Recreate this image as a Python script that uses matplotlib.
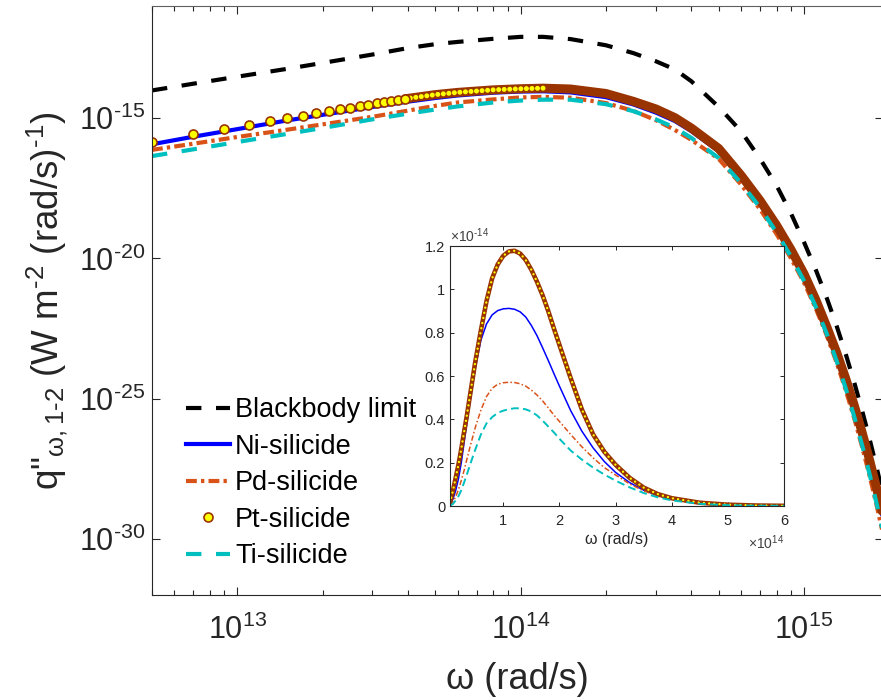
import numpy as np
import matplotlib
matplotlib.use('Agg')
import matplotlib.pyplot as plt
from matplotlib.lines import Line2D
from matplotlib.ticker import FixedLocator, NullLocator, FuncFormatter

plt.rcParams['font.family'] = ['Liberation Sans', 'DejaVu Sans']
plt.rcParams['mathtext.fontset'] = 'custom'
plt.rcParams['mathtext.rm'] = 'Liberation Sans'
plt.rcParams['mathtext.it'] = 'Liberation Sans:italic'
plt.rcParams['mathtext.default'] = 'regular'

# ---- main plot data: omega (rad/s) and log10 of q ----
w_main = [5e12, 7e12, 1e13, 1.5e13, 2e13, 3e13, 4e13, 5e13, 6e13, 8e13,
          1e14, 1.2e14, 1.5e14, 2e14, 2.5e14, 3e14, 3.5e14, 4e14, 5e14, 6e14,
          7e14, 8e14, 9e14, 1e15, 1.1e15, 1.2e15, 1.3e15, 1.4e15, 1.5e15,
          1.6e15, 1.7e15, 1.8e15, 1.9e15]
bb_exp = [-14.01, -13.77, -13.52, -13.24, -13.03, -12.73, -12.50, -12.36, -12.28, -12.17,
          -12.10, -12.10, -12.18, -12.40, -12.68, -12.97, -13.26, -13.68, -14.60, -15.47,
          -16.45, -17.40, -18.40, -19.42, -20.40, -21.38, -22.37, -23.37, -24.38,
          -25.39, -26.40, -27.41, -28.42]
ni_exp = [-15.93, -15.66, -15.39, -15.08, -14.88, -14.60, -14.41, -14.28, -14.19, -14.09,
          -14.05, -14.04, -14.08, -14.25, -14.51, -14.80, -15.10, -15.46, -16.18, -17.14,
          -18.04, -18.92, -19.79, -20.65, -21.57, -22.51, -23.42, -24.35, -25.30,
          -26.27, -27.25, -28.25, -29.26]
pd_exp = [-16.13, -15.91, -15.67, -15.41, -15.22, -14.95, -14.73, -14.56, -14.44, -14.33,
          -14.26, -14.24, -14.27, -14.46, -14.74, -15.07, -15.42, -15.77, -16.45, -17.37,
          -18.25, -19.13, -20.00, -20.86, -21.78, -22.72, -23.68, -24.66, -25.66,
          -26.68, -27.71, -28.76, -29.82]
ti_exp = [-16.35, -16.11, -15.85, -15.56, -15.35, -15.04, -14.84, -14.69, -14.58, -14.44,
          -14.37, -14.34, -14.34, -14.50, -14.75, -15.04, -15.34, -15.70, -16.42, -17.32,
          -18.19, -19.07, -19.94, -20.80, -21.72, -22.66, -23.62, -24.60, -25.60,
          -26.62, -27.65, -28.70, -29.76]

# Pt-silicide: separate markers at low omega, then a dense band of overlapping markers
pt_mark_w = [5e12, 7e12, 9e12, 11e12, 13e12, 15e12, 17e12, 19e12, 21e12, 23e12,
             25e12, 27e12, 29e12, 31e12, 33e12, 35e12, 37e12, 39e12]
pt_mark_exp = [-15.85, -15.58, -15.39, -15.23, -15.11, -15.00, -14.91, -14.82, -14.75, -14.69,
               -14.63, -14.57, -14.52, -14.47, -14.43, -14.39, -14.35, -14.31]
pt_band_w = [3.9e13, 5e13, 6e13, 8e13, 1e14, 1.2e14, 1.5e14, 2e14, 2.5e14, 3e14,
             3.5e14, 4e14, 5e14, 6e14, 7e14, 8e14, 9e14, 1e15, 1.1e15, 1.2e15,
             1.3e15, 1.4e15, 1.5e15, 1.6e15, 1.7e15, 1.8e15, 1.9e15]
pt_band_exp = [-14.31, -14.16, -14.08, -13.99, -13.95, -13.93, -13.96, -14.12, -14.40, -14.67,
               -14.98, -15.35, -16.08, -17.04, -17.94, -18.82, -19.69, -20.55, -21.47, -22.41,
               -23.32, -24.25, -25.20, -26.17, -27.15, -28.15, -29.16]

# ---- inset data: omega in 1e14 rad/s, q in 1e-14 ----
w_in = [0.05, 0.1, 0.15, 0.2, 0.25, 0.3, 0.35, 0.4, 0.5, 0.6, 0.7, 0.8, 0.9, 1.0,
        1.1, 1.2, 1.3, 1.4, 1.5, 1.6, 1.7, 1.8, 1.9, 2.0, 2.2, 2.4, 2.6, 2.8, 3.0,
        3.25, 3.5, 3.75, 4.0, 4.5, 5.0, 5.5, 6.0]
pt_in = [0.015, 0.068, 0.128, 0.19, 0.262, 0.34, 0.417, 0.50, 0.665, 0.81, 0.945, 1.05, 1.115, 1.155,
         1.175, 1.178, 1.165, 1.135, 1.09, 1.035, 0.972, 0.90, 0.82, 0.743, 0.59, 0.445, 0.33, 0.25, 0.19,
         0.13, 0.085, 0.055, 0.036, 0.015, 0.006, 0.0022, 0.0008]
ni_in = [0.008, 0.03, 0.07, 0.125, 0.198, 0.29, 0.38, 0.47, 0.635, 0.765, 0.84, 0.882, 0.902, 0.91,
         0.912, 0.908, 0.896, 0.872, 0.833, 0.786, 0.73, 0.672, 0.612, 0.553, 0.44, 0.345, 0.268, 0.205, 0.155,
         0.108, 0.073, 0.048, 0.031, 0.012, 0.0045, 0.0016, 0.0005]
pd_in = [0.003, 0.018, 0.042, 0.075, 0.117, 0.163, 0.215, 0.266, 0.362, 0.442, 0.505, 0.543, 0.562, 0.569,
         0.571, 0.57, 0.564, 0.553, 0.535, 0.512, 0.485, 0.453, 0.42, 0.39, 0.33, 0.273, 0.222, 0.177, 0.143,
         0.102, 0.07, 0.046, 0.029, 0.011, 0.004, 0.0014, 0.0005]
ti_in = [0.001, 0.009, 0.025, 0.045, 0.072, 0.108, 0.145, 0.185, 0.26, 0.33, 0.381, 0.41, 0.43, 0.44,
         0.447, 0.451, 0.451, 0.446, 0.436, 0.418, 0.394, 0.367, 0.34, 0.31, 0.256, 0.214, 0.177, 0.145, 0.117,
         0.086, 0.06, 0.04, 0.026, 0.01, 0.0037, 0.0013, 0.0005]

labels = ['Blackbody limit', 'Ni-silicide', 'Pd-silicide', 'Pt-silicide', 'Ti-silicide']

TXT = '#262626'
BROWN = '#993300'
YEL = '#FFFF00'
BLUE = '#0000FF'
ORANGE = '#D95319'
CYAN = '#00BFBF'

bb = 10.0 ** np.array(bb_exp)
ni = 10.0 ** np.array(ni_exp)
pdq = 10.0 ** np.array(pd_exp)
ti = 10.0 ** np.array(ti_exp)
pt_mark = 10.0 ** np.array(pt_mark_exp)
pt_band = 10.0 ** np.array(pt_band_exp)


def pow10_label(v, _):
    e = int(round(np.log10(v)))
    if e < 0:
        return r'$10^{\text{-}%d}$' % (-e)
    return r'$10^{%d}$' % e


fig = plt.figure(figsize=(8.81, 7.0), dpi=100)
ax = fig.add_axes([152 / 881, 105 / 700, 731 / 881, 589 / 700])
ax.set_xscale('log')
ax.set_yscale('log')

l_bb, = ax.plot(w_main, bb, color='k', lw=3, ls=(0, (3.7, 3.5)))
l_ni, = ax.plot(w_main, ni, color=BLUE, lw=3)
l_pd, = ax.plot(w_main, pdq, color=ORANGE, lw=3, ls=(0, (2.6, 1.0, 0.8, 1.0)))
ax.plot(pt_band_w, pt_band, color=BROWN, lw=6.5, solid_capstyle='round')
ax.plot(pt_band_w[:6], pt_band[:6], color=YEL, lw=3.6, ls=(0, (0.01, 1.1)),
        dash_capstyle='round')
l_pt, = ax.plot(pt_mark_w, pt_mark, ls='none', marker='o', ms=6.5, mfc=YEL, mec=BROWN, mew=1.2)
l_ti, = ax.plot(w_main, ti, color=CYAN, lw=3, ls=(0, (3.7, 3.5)))

ax.set_xlim(5e12, 1.9e15)
ax.set_ylim(1e-32, 1e-11)
ax.yaxis.set_major_locator(FixedLocator([1e-30, 1e-25, 1e-20, 1e-15]))
ax.yaxis.set_minor_locator(NullLocator())
ax.xaxis.set_major_formatter(FuncFormatter(pow10_label))
ax.yaxis.set_major_formatter(FuncFormatter(pow10_label))
ax.tick_params(which='both', direction='in', top=True, right=True, color=TXT,
               labelcolor=TXT, width=0.8)
ax.tick_params(which='major', length=6, labelsize=22)
ax.tick_params(which='minor', length=3.3)
ax.tick_params(axis='x', which='major', pad=14)
ax.tick_params(axis='y', which='major', pad=5)
for s in ax.spines.values():
    s.set_color(TXT)
    s.set_linewidth(0.8)
ax.spines['top'].set_color('#606060')

ax.set_xlabel('ω (rad/s)', fontsize=26, color=TXT, labelpad=12)
ax.set_ylabel('q"$_{ω,1\\text{-}2}$ (W m$^{\\text{-}2}$ (rad/s)$^{\\text{-}1}$)',
              fontsize=26.5, color=TXT, labelpad=6)

leg_pt = Line2D([], [], ls='none', marker='o', ms=6.5, mfc=YEL, mec=BROWN, mew=1.2)
ax.legend([l_bb, l_ni, l_pd, leg_pt, l_ti], labels, loc='upper left',
          bbox_to_anchor=(0.047, 0.336), frameon=False, fontsize=19.5,
          borderpad=0, borderaxespad=0, handlelength=1.6, handletextpad=0.2,
          labelspacing=0.39)

# ---- inset ----
axin = fig.add_axes([450 / 881, 194 / 700, 334 / 881, 260 / 700])
wi = np.array(w_in) * 1e14
axin.plot(wi, np.array(ni_in) * 1e-14, color=BLUE, lw=1.1)
axin.plot(wi, np.array(pd_in) * 1e-14, color=ORANGE, lw=1.1, ls=(0, (3.5, 1.5, 1.0, 1.5)))
axin.plot(wi, np.array(pt_in) * 1e-14, color=BROWN, lw=3.3, solid_capstyle='round')
axin.plot(wi, np.array(pt_in) * 1e-14, color=YEL, lw=1.7, ls=(0, (0.01, 2.2)),
          dash_capstyle='round')
axin.plot(wi, np.array(ti_in) * 1e-14, color=CYAN, lw=1.4, ls=(0, (4, 2.2)))
axin.set_xlim(0.05e14, 6e14)
axin.set_ylim(0, 1.2e-14)
axin.set_xticks([1e14, 2e14, 3e14, 4e14, 5e14, 6e14])
axin.set_yticks([0, 0.2e-14, 0.4e-14, 0.6e-14, 0.8e-14, 1.0e-14, 1.2e-14])
axin.xaxis.set_major_formatter(FuncFormatter(lambda v, _: f'{v / 1e14:g}'))
axin.yaxis.set_major_formatter(FuncFormatter(lambda v, _: f'{v / 1e-14:g}'))
axin.tick_params(direction='in', top=True, right=True, length=3, width=0.7,
                 labelsize=10.5, color=TXT, labelcolor=TXT)
axin.tick_params(axis='x', pad=6)
for s in axin.spines.values():
    s.set_color(TXT)
    s.set_linewidth(0.8)
axin.text(0.0, 1.005, r'$\times10^{\text{-}14}$', transform=axin.transAxes, ha='left',
          va='bottom', fontsize=10, color='#404040')
axin.text(1.0, -0.105, r'$\times10^{14}$', transform=axin.transAxes, ha='right',
          va='top', fontsize=10, color='#404040')
axin.set_xlabel('ω (rad/s)', fontsize=11.5, color=TXT)
axin.xaxis.set_label_coords(0.5, -0.1)

fig.savefig('out.png', dpi=100, facecolor='white')
